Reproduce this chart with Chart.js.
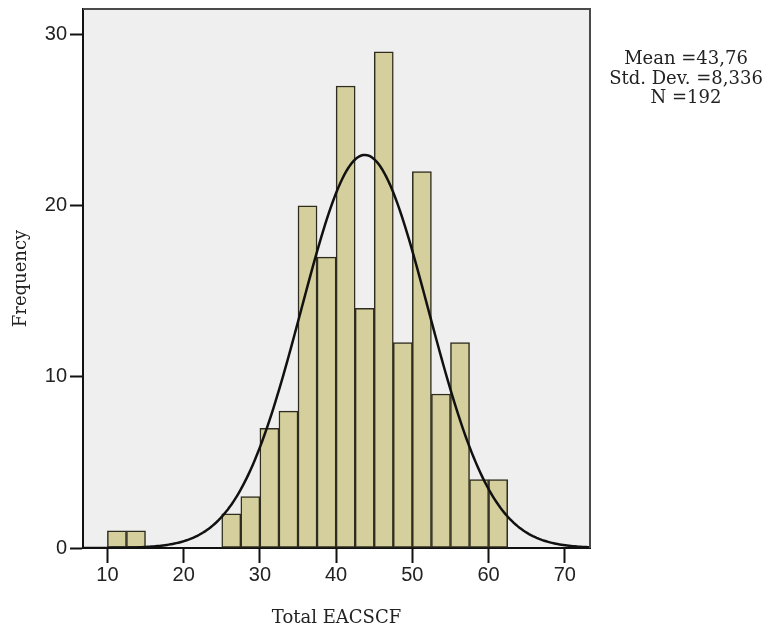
<!DOCTYPE html>
<html>
<head>
<meta charset="utf-8">
<title>Total EACSCF</title>
<script src="https://cdn.jsdelivr.net/npm/chart.js@4.4.1/dist/chart.umd.min.js"></script>
<style>
	html, body { margin: 0; padding: 0; background: #fff; }
	#wrap { width: 768px; height: 627px; position: relative; }
</style>
</head>
<body>
<div id="wrap"><canvas id="histChart"></canvas></div>
<script>
// histogram bins (left edge of each 2.5 wide bin) and their frequencies
const binStarts = [10, 12.5, 25, 27.5, 30, 32.5, 35, 37.5, 40, 42.5, 45, 47.5, 50, 52.5, 55, 57.5, 60];
const frequencies = [1, 1, 2, 3, 7, 8, 20, 17, 27, 14, 29, 12, 22, 9, 12, 4, 4];
const binWidth = 2.5;

// summary statistics shown beside the plot
const mean = 43.76;
const stdDev = 8.336;
const n = 192;
const statLines = ["Mean =43,76", "Std. Dev. =8,336", "N =192"];

const xTicks = [10, 20, 30, 40, 50, 60, 70];
const yTicks = [0, 10, 20, 30];
const xMin = 6.8, xMax = 73.3;
const yMin = 0, yMax = 31.5;

// bars are centred in their bin
const barPoints = binStarts.map((s, i) => ({ x: s + binWidth / 2, y: frequencies[i] }));

// normal curve scaled to the histogram (N * bin width * density)
const curvePoints = [];
for (let x = xMin; x <= xMax + 1e-9; x += 0.25) {
	const z = (x - mean) / stdDev;
	const y = n * binWidth * Math.exp(-0.5 * z * z) / (stdDev * Math.sqrt(2 * Math.PI));
	curvePoints.push({ x: x, y: y });
}

const frame = {
	id: "frame",
	beforeDraw(chart) {
		const ctx = chart.ctx;
		const a = chart.chartArea;
		ctx.save();
		ctx.fillStyle = "#fff";
		ctx.fillRect(0, 0, chart.width, chart.height);
		ctx.fillStyle = "#efefef";
		ctx.fillRect(a.left, a.top, a.right - a.left, a.bottom - a.top);
		ctx.restore();
	},
	afterDraw(chart) {
		const ctx = chart.ctx;
		const a = chart.chartArea;
		ctx.save();
		ctx.strokeStyle = "#4a4a4a";
		ctx.lineWidth = 2;
		ctx.beginPath();
		ctx.moveTo(a.left, a.top);
		ctx.lineTo(a.right, a.top);
		ctx.lineTo(a.right, a.bottom);
		ctx.stroke();

		ctx.fillStyle = "#222";
		ctx.font = "18px 'DejaVu Serif'";
		ctx.textAlign = "center";
		ctx.textBaseline = "alphabetic";
		const baselines = [64, 84, 103];
		statLines.forEach((t, i) => ctx.fillText(t, 686, baselines[i]));
		ctx.restore();
	}
};

// keep the plot box where we put it, ignoring label overhang
function noOverhang(scale) {
	scale.paddingTop = 0;
	scale.paddingBottom = 0;
	scale.paddingLeft = 0;
	scale.paddingRight = 0;
}

const tickFont = { family: "'Liberation Sans', Arial, sans-serif", size: 20 };
const titleFont = { family: "'DejaVu Serif', serif", size: 18 };

new Chart(document.getElementById("histChart"), {
	type: "bar",
	data: {
		datasets: [
			{
				type: "line",
				data: curvePoints,
				borderColor: "#111",
				borderWidth: 2.5,
				pointRadius: 0,
				tension: 0,
				fill: false,
				order: 0
			},
			{
				type: "bar",
				data: barPoints,
				backgroundColor: "#d4cf9c",
				borderColor: "#2e2c1e",
				borderWidth: 1.5,
				borderSkipped: false,
				barPercentage: 1,
				categoryPercentage: 1,
				order: 1
			}
		]
	},
	options: {
		responsive: true,
		maintainAspectRatio: false,
		animation: false,
		layout: { padding: { left: 0, top: 9, right: 178, bottom: 0 } },
		plugins: {
			legend: { display: false },
			tooltip: { enabled: false }
		},
		scales: {
			x: {
				type: "linear",
				min: xMin,
				max: xMax,
				offset: false,
				afterBuildTicks: (scale) => { scale.ticks = xTicks.map(v => ({ value: v })); },
				afterFit: (scale) => { scale.height = 79; noOverhang(scale); },
				ticks: { color: "#222", font: tickFont, padding: 0, maxRotation: 0 },
				grid: { offset: false, drawOnChartArea: false, drawTicks: true, tickLength: 15, tickColor: "#111", tickWidth: 2 },
				border: { display: true, color: "#111", width: 2 },
				title: { display: true, text: "Total EACSCF", color: "#222", font: titleFont, padding: { top: 0, bottom: -2 } }
			},
			y: {
				min: yMin,
				max: yMax,
				afterBuildTicks: (scale) => { scale.ticks = yTicks.map(v => ({ value: v })); },
				afterFit: (scale) => { scale.width = 83; noOverhang(scale); },
				ticks: { color: "#222", font: tickFont, padding: 3 },
				grid: { drawOnChartArea: false, drawTicks: true, tickLength: 13, tickColor: "#111", tickWidth: 2 },
				border: { display: true, color: "#111", width: 2 },
				title: { display: true, text: "Frequency", color: "#222", font: titleFont, padding: { top: 11, bottom: 0 } }
			}
		}
	},
	plugins: [frame]
});
</script>
</body>
</html>
